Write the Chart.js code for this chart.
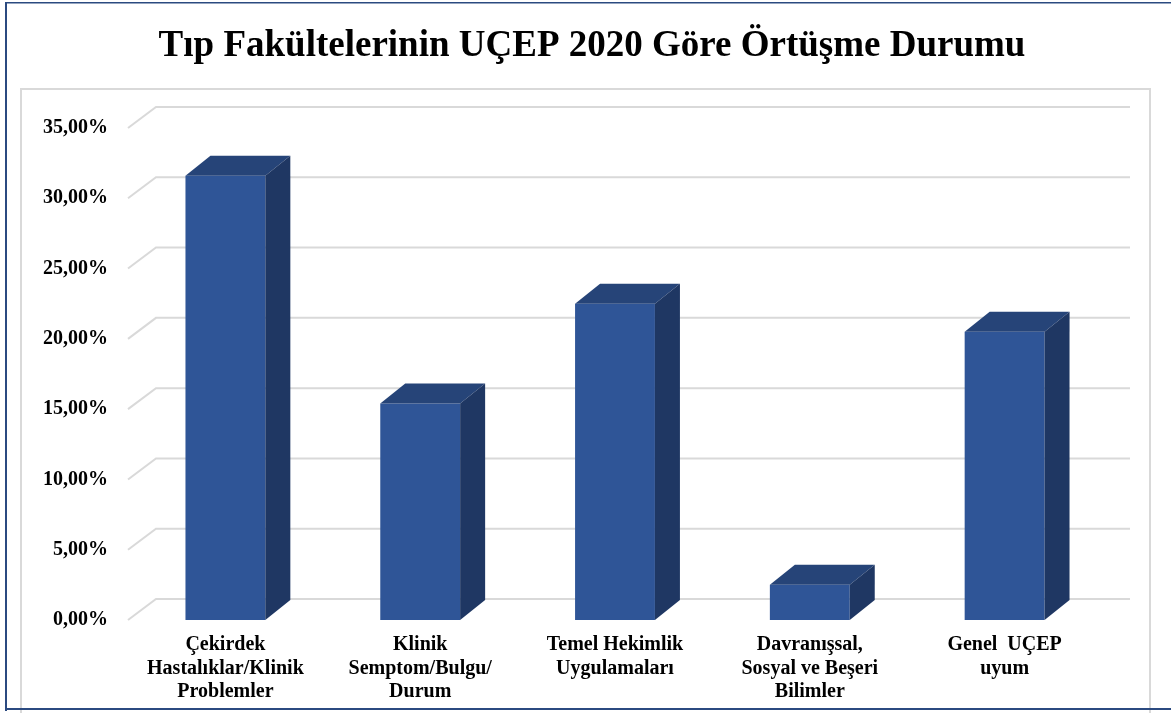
<!DOCTYPE html>
<html><head><meta charset="utf-8">
<script src="https://cdn.jsdelivr.net/npm/chart.js@4/dist/chart.umd.min.js"></script>
<style>html,body{margin:0;padding:0;background:#fff;overflow:hidden}#wrap{position:absolute;left:0;top:0;width:1171px;height:713px}</style>
</head><body><div id="wrap"><canvas id="c"></canvas></div>
<script>
const chartTitle = "Tıp Fakültelerinin UÇEP 2020 Göre Örtüşme Durumu";
const categories = [
  ["Çekirdek", "Hastalıklar/Klinik", "Problemler"],
  ["Klinik", "Semptom/Bulgu/", "Durum"],
  ["Temel Hekimlik", "Uygulamaları"],
  ["Davranışsal,", "Sosyal ve Beşeri", "Bilimler"],
  ["Genel  UÇEP", "uyum"]
];
const values = [31.6, 15.4, 22.5, 2.5, 20.5];
const yTicks = [0, 5, 10, 15, 20, 25, 30, 35];

const FONT = "'Liberation Serif', 'Times New Roman', serif";
const GRID_DX = 28, GRID_DY = -21;
const BAR_DX = 25, BAR_DY = -20;

const framePlugin = {
  id: 'frame',
  beforeDraw(chart) {
    const ctx = chart.ctx;
    ctx.save();
    ctx.fillStyle = '#fff';
    ctx.fillRect(0, 0, chart.width, chart.height);
    ctx.fillStyle = '#d9d9d9';
    ctx.fillRect(20, 88, 2, 625);
    ctx.fillRect(20, 88, 1131, 2);
    ctx.fillRect(1149, 88, 2, 625);
    ctx.fillStyle = '#2b4a80';
    ctx.fillRect(5, 2, 2, 709);
    ctx.fillRect(5, 2, 1166, 1.5);
    ctx.fillRect(5, 708, 1166, 2);
    ctx.fillStyle = '#000';
    ctx.font = "bold 37px " + FONT;
    ctx.textAlign = 'center';
    ctx.textBaseline = 'middle';
    ctx.fillText(chartTitle, 592, 46);
    ctx.restore();
  },
  beforeDatasetsDraw(chart) {
    const ctx = chart.ctx, ys = chart.scales.y, a = chart.chartArea;
    ctx.save();
    ctx.strokeStyle = '#d9d9d9';
    ctx.lineWidth = 2;
    yTicks.forEach(v => {
      const yf = ys.getPixelForValue(v);
      ctx.beginPath();
      ctx.moveTo(a.left, yf);
      ctx.lineTo(a.left + GRID_DX, yf + GRID_DY);
      ctx.lineTo(a.right + GRID_DX, yf + GRID_DY);
      ctx.stroke();
    });
    ctx.restore();
  },
  afterDatasetsDraw(chart) {
    const ctx = chart.ctx;
    const meta = chart.getDatasetMeta(0);
    ctx.save();
    meta.data.forEach(bar => {
      const p = bar.getProps(['x', 'y', 'base', 'width'], true);
      const l = p.x - p.width / 2, r = p.x + p.width / 2;
      ctx.fillStyle = '#264478';
      ctx.beginPath();
      ctx.moveTo(l, p.y);
      ctx.lineTo(l + BAR_DX, p.y + BAR_DY);
      ctx.lineTo(r + BAR_DX, p.y + BAR_DY);
      ctx.lineTo(r, p.y);
      ctx.closePath();
      ctx.fill();
      ctx.fillStyle = '#1f3763';
      ctx.beginPath();
      ctx.moveTo(r, p.y);
      ctx.lineTo(r + BAR_DX, p.y + BAR_DY);
      ctx.lineTo(r + BAR_DX, p.base + BAR_DY);
      ctx.lineTo(r, p.base);
      ctx.closePath();
      ctx.fill();
    });
    ctx.restore();
  }
};

new Chart(document.getElementById('c'), {
  type: 'bar',
  data: {
    labels: categories,
    datasets: [{
      data: values,
      backgroundColor: '#2f5597',
      borderWidth: 0,
      barPercentage: 1,
      categoryPercentage: 0.41
    }]
  },
  plugins: [framePlugin],
  options: {
    responsive: true,
    maintainAspectRatio: false,
    animation: false,
    layout: { padding: { left: 0, right: 69, top: 128, bottom: 0 } },
    plugins: {
      legend: { display: false },
      tooltip: { enabled: false },
      title: { display: false }
    },
    scales: {
      x: {
        grid: { display: false, drawTicks: false },
        border: { display: false },
        ticks: {
          color: '#000',
          font: { family: FONT, size: 20, weight: 'bold', lineHeight: 1.18 },
          padding: 13,
          maxRotation: 0, autoSkip: false
        },
        afterFit(s) { s.height = 93; }
      },
      y: {
        min: 0, max: 35,
        grid: { display: false, drawTicks: false },
        border: { display: false },
        afterBuildTicks(s) { s.ticks = yTicks.map(v => ({ value: v })); },
        ticks: {
          color: '#000',
          font: { family: FONT, size: 20, weight: 'bold' },
          padding: 20,
          callback: v => v.toFixed(2).replace('.', ',') + '%'
        },
        afterFit(s) { s.width = 128; }
      }
    }
  }
});
</script>
</body></html>
